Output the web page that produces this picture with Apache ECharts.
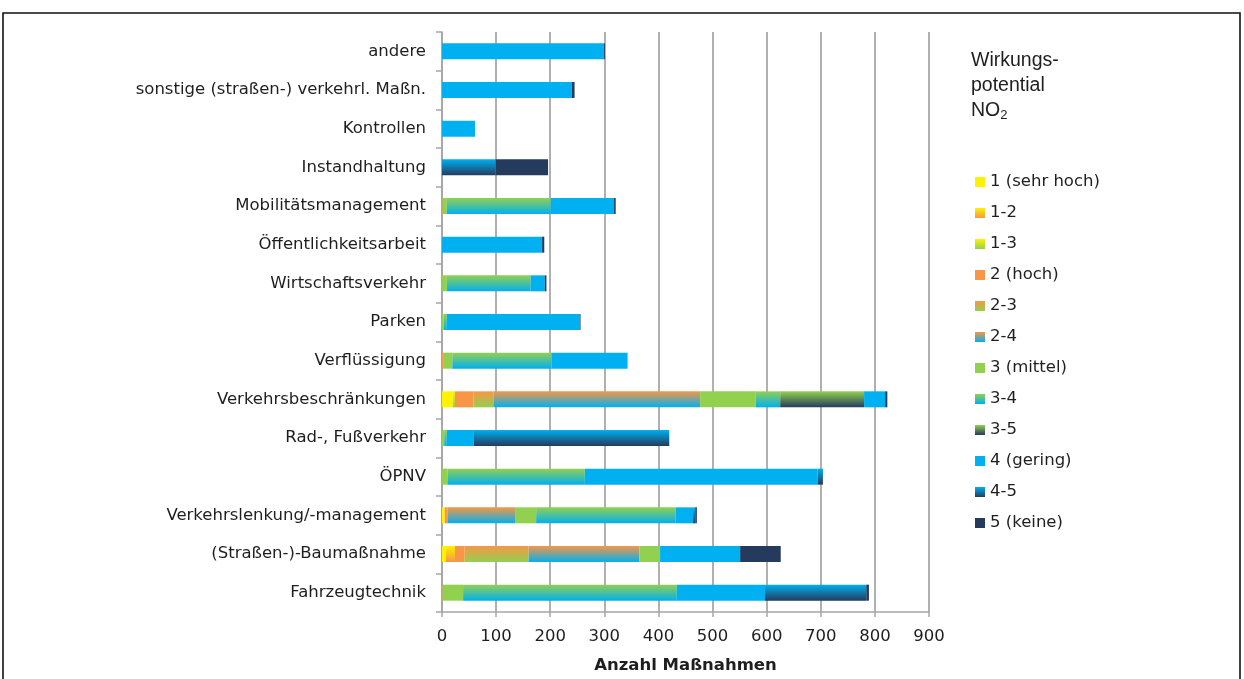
<!DOCTYPE html>
<html>
<head>
<meta charset="utf-8">
<script src="https://cdn.jsdelivr.net/npm/echarts@6/dist/echarts.min.js"></script>
<style>
  html, body { margin: 0; padding: 0; background: #fff; }
  #chart { width: 1244px; height: 679px; }
</style>
</head>
<body>
<div id="chart"></div>
<script>
// Kategorien (von oben nach unten)
const categories = [
  'andere',
  'sonstige (straßen-) verkehrl. Maßn.',
  'Kontrollen',
  'Instandhaltung',
  'Mobilitätsmanagement',
  'Öffentlichkeitsarbeit',
  'Wirtschaftsverkehr',
  'Parken',
  'Verflüssigung',
  'Verkehrsbeschränkungen',
  'Rad-, Fußverkehr',
  'ÖPNV',
  'Verkehrslenkung/-management',
  '(Straßen-)-Baumaßnahme',
  'Fahrzeugtechnik'
];

// Anzahl Maßnahmen je Wirkungspotential (gleiche Reihenfolge wie categories)
const v1     = [0, 0, 0, 0, 0, 0, 0, 0, 0, 20, 0, 0, 5, 7, 0];
const v1_2   = [0, 0, 0, 0, 0, 0, 0, 0, 0, 0, 0, 0, 0, 17, 0];
const v1_3   = [0, 0, 0, 0, 0, 0, 0, 0, 0, 4, 0, 0, 0, 0, 0];
const v2     = [0, 0, 0, 0, 1, 0, 0, 0, 2, 34, 0, 0, 5, 18, 1];
const v2_3   = [0, 0, 0, 0, 0, 0, 0, 0, 0, 37, 0, 0, 0, 118, 0];
const v2_4   = [0, 0, 0, 0, 0, 0, 0, 0, 0, 382, 0, 0, 125, 205, 0];
const v3     = [0, 0, 0, 0, 8, 0, 9, 3, 17, 103, 4, 10, 39, 38, 38];
const v3_4   = [0, 0, 0, 0, 192, 0, 155, 6, 183, 45, 5, 254, 258, 0, 395];
const v3_5   = [0, 0, 0, 0, 0, 0, 0, 0, 0, 155, 0, 0, 0, 0, 0];
const v4     = [299, 240, 61, 0, 117, 185, 26, 246, 141, 39, 50, 430, 32, 148, 163];
const v4_5   = [0, 0, 0, 99, 0, 0, 0, 0, 0, 0, 361, 10, 4, 0, 187];
const v5     = [2, 5, 0, 97, 3, 4, 3, 1, 0, 4, 0, 0, 3, 75, 5];

const xTicks = { min: 0, max: 900, interval: 100 };

const YEL = '#FFF200', ORA = '#F79646', GRN = '#92D050', BLU = '#00B0F0', NAV = '#243B5E';

// Zwischenstufen: vertikaler Verlauf von der oberen zur unteren Stufe
function grad(top, bottom) {
  return new echarts.graphic.LinearGradient(0, 0, 0, 1, [
    { offset: 0, color: top },
    { offset: 1, color: bottom }
  ]);
}

const seriesDefs = [
  ['1 (sehr hoch)', v1, YEL],
  ['1-2', v1_2, grad(YEL, ORA)],
  ['1-3', v1_3, grad(YEL, GRN)],
  ['2 (hoch)', v2, ORA],
  ['2-3', v2_3, grad(ORA, GRN)],
  ['2-4', v2_4, grad(ORA, BLU)],
  ['3 (mittel)', v3, GRN],
  ['3-4', v3_4, grad(GRN, BLU)],
  ['3-5', v3_5, grad(GRN, NAV)],
  ['4 (gering)', v4, BLU],
  ['4-5', v4_5, grad(BLU, NAV)],
  ['5 (keine)', v5, NAV]
];

const FONT = 'DejaVu Sans, Verdana, sans-serif';
const TITLE_FONT = 'Liberation Sans, Arial, sans-serif';
const TXT = '#1e1e1e';

const chart = echarts.init(document.getElementById('chart'), null, { renderer: 'canvas' });

chart.setOption({
  animation: false,
  backgroundColor: '#fff',
  textStyle: { fontFamily: FONT },
  title: {
    left: 966,
    top: 43,
    text: 'Wirkungs-\npotential\nNO{sub|2}',
    textStyle: {
      fontFamily: TITLE_FONT,
      fontSize: 19.5,
      fontWeight: 'normal',
      color: TXT,
      lineHeight: 25,
      rich: {
        sub: { fontFamily: TITLE_FONT, fontSize: 13, color: TXT, padding: [10, 0, 0, 0] }
      }
    }
  },
  legend: {
    orient: 'vertical',
    left: 970,
    top: 167,
    icon: 'rect',
    itemWidth: 10,
    itemHeight: 10,
    itemGap: 11,
    textStyle: { fontFamily: FONT, fontSize: 16.5, color: TXT, lineHeight: 20 },
    data: seriesDefs.map(d => d[0])
  },
  grid: { left: 442, right: 315, top: 32, bottom: 67, containLabel: false },
  xAxis: {
    type: 'value',
    min: xTicks.min,
    max: xTicks.max,
    interval: xTicks.interval,
    name: 'Anzahl Maßnahmen',
    nameLocation: 'middle',
    nameGap: 45,
    nameTextStyle: { fontFamily: FONT, fontSize: 16.5, fontWeight: 'bold', color: TXT },
    axisLine: { show: true, lineStyle: { color: '#A6A6A6', width: 1.5 } },
    axisTick: { show: true, length: 5, lineStyle: { color: '#A6A6A6', width: 1.5 } },
    axisLabel: { fontFamily: FONT, fontSize: 16.5, color: TXT, margin: 16 },
    splitLine: { show: true, lineStyle: { color: '#B0B0B0', width: 2 } }
  },
  yAxis: {
    type: 'category',
    inverse: true,
    data: categories,
    axisLine: { show: true, lineStyle: { color: '#A6A6A6', width: 1.5 } },
    axisTick: { show: true, length: 6, lineStyle: { color: '#A6A6A6', width: 1.5 } },
    axisLabel: { fontFamily: FONT, fontSize: 16.5, color: TXT, margin: 16 }
  },
  series: seriesDefs.map(([name, data, color]) => ({
    name,
    type: 'bar',
    stack: 'total',
    barWidth: 16,
    data,
    itemStyle: { color },
    emphasis: { disabled: true }
  })),
  graphic: [{
    type: 'rect',
    shape: { x: 3, y: 13, width: 1237, height: 700 },
    style: { fill: 'none', stroke: '#111', lineWidth: 1.6 },
    silent: true
  }]
});
</script>
</body>
</html>
